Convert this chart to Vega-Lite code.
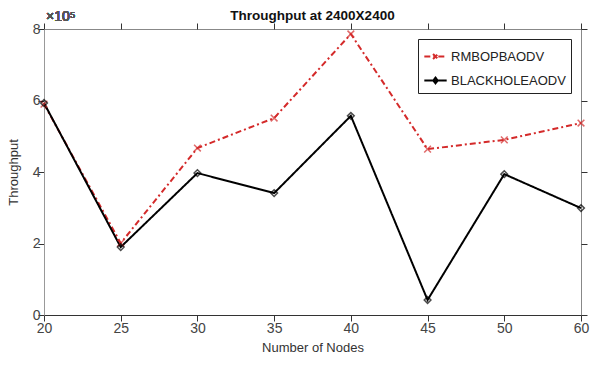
{
  "$schema": "https://vega.github.io/schema/vega-lite/v6.json",
  "width": 537,
  "height": 286,
  "autosize": {"type": "none"},
  "padding": {"left": 44, "top": 29, "right": 20, "bottom": 57},
  "background": "white",
  "title": {
    "text": "Throughput at 2400X2400",
    "font": "Liberation Sans",
    "fontSize": 13.5,
    "fontWeight": "bold",
    "color": "#111",
    "anchor": "middle",
    "offset": 0,
    "dy": 12
  },
  "config": {
    "view": {"stroke": "#888", "strokeWidth": 1},
    "axis": {
      "labelFont": "Liberation Sans",
      "titleFont": "Liberation Sans",
      "labelFontSize": 14,
      "titleFontSize": 13,
      "labelColor": "#444",
      "titleColor": "#333",
      "titleFontWeight": "normal",
      "grid": false,
      "tickColor": "#333",
      "tickWidth": 1,
      "tickSize": 6,
      "domainColor": "#666"
    }
  },
  "data": {
    "values": [
      {"nodes": 20, "series": "RMBOPBAODV", "throughput": 590000},
      {"nodes": 25, "series": "RMBOPBAODV", "throughput": 201000},
      {"nodes": 30, "series": "RMBOPBAODV", "throughput": 467000},
      {"nodes": 35, "series": "RMBOPBAODV", "throughput": 551000},
      {"nodes": 40, "series": "RMBOPBAODV", "throughput": 786000},
      {"nodes": 45, "series": "RMBOPBAODV", "throughput": 464000},
      {"nodes": 50, "series": "RMBOPBAODV", "throughput": 490000},
      {"nodes": 60, "series": "RMBOPBAODV", "throughput": 537000},
      {"nodes": 20, "series": "BLACKHOLEAODV", "throughput": 593000},
      {"nodes": 25, "series": "BLACKHOLEAODV", "throughput": 190000},
      {"nodes": 30, "series": "BLACKHOLEAODV", "throughput": 397000},
      {"nodes": 35, "series": "BLACKHOLEAODV", "throughput": 341000},
      {"nodes": 40, "series": "BLACKHOLEAODV", "throughput": 557000},
      {"nodes": 45, "series": "BLACKHOLEAODV", "throughput": 42000},
      {"nodes": 50, "series": "BLACKHOLEAODV", "throughput": 394000},
      {"nodes": 60, "series": "BLACKHOLEAODV", "throughput": 299000}
    ]
  },
  "resolve": {"axis": {"x": "independent", "y": "independent"}},
  "layer": [
    {
      "layer": [
        {
          "mark": {"type": "line", "strokeWidth": 2},
          "encoding": {
            "x": {
              "field": "nodes", "type": "ordinal",
              "scale": {"type": "point", "padding": 0},
              "axis": {"orient": "bottom", "title": "Number of Nodes", "labelAngle": 0, "labelPadding": 0, "titlePadding": 6, "domainColor": "#333",
                "encode": {"ticks": {"update": {"y2": {"value": -6}}}}}
            },
            "y": {
              "field": "throughput", "type": "quantitative",
              "scale": {"domain": [0, 800000], "nice": false},
              "axis": {"orient": "left", "title": "Throughput", "values": [0, 200000, 400000, 600000, 800000], "labelExpr": "datum.value / 100000", "labelPadding": -2, "titlePadding": 12, "domainColor": "#999",
                "encode": {"ticks": {"update": {"x2": {"value": 6}}}}}
            },
            "color": {
              "field": "series", "type": "nominal",
              "scale": {"domain": ["RMBOPBAODV", "BLACKHOLEAODV"], "range": ["#d42a2a", "#000000"]},
              "legend": {
                "title": null,
                "orient": "top-right",
                "offset": 10,
                "fillColor": "white",
                "strokeColor": "#222",
                "padding": 5,
                "labelFont": "Liberation Sans",
                "labelFontSize": 13,
                "labelColor": "#222",
                "symbolSize": 500,
                "symbolStrokeWidth": 2,
                "rowPadding": 4,
                "labelOffset": 3,
                "encode": {
                  "symbols": {
                    "update": {
                      "shape": {"signal": "datum.value === 'RMBOPBAODV' ? 'M-1,0L1,0M-0.22,-0.22L0.22,0.22M-0.22,0.22L0.22,-0.22' : 'M-1,0L1,0M0,-0.25L0.2,0L0,0.25L-0.2,0Z'"},
                      "fill": {"value": "transparent"},
                      "strokeWidth": {"value": 2}
                    }
                  }
                }
              }
            },
            "strokeDash": {
              "field": "series", "type": "nominal",
              "scale": {"domain": ["RMBOPBAODV", "BLACKHOLEAODV"], "range": [[6, 3, 2, 3], [1, 0]]}
            }
          }
        },
        {
          "mark": {"type": "point", "filled": false, "strokeWidth": 1.5, "size": 45},
          "encoding": {
            "x": {"field": "nodes", "type": "ordinal"},
            "y": {"field": "throughput", "type": "quantitative"},
            "stroke": {
              "condition": {"test": "datum.series === 'RMBOPBAODV'", "value": "#d42a2a"},
              "value": "#000000"
            },
            "shape": {
              "condition": {"test": "datum.series === 'RMBOPBAODV'", "value": "M-1,-1L1,1M-1,1L1,-1"},
              "value": "diamond"
            }
          }
        },
        {
          "mark": {"type": "text", "align": "left", "baseline": "bottom", "dx": 2, "dy": -5, "font": "Liberation Sans", "fontSize": 14, "color": "#555"},
          "encoding": {
            "x": {"datum": 20, "type": "ordinal"},
            "y": {"datum": 800000, "type": "quantitative"},
            "text": {"value": "×10⁵"}
          }
        }
      ]
    },
    {
      "mark": {"type": "point", "opacity": 0},
      "encoding": {
        "x": {"field": "nodes", "type": "ordinal", "axis": {"orient": "top", "labels": false, "title": null, "domain": false,
          "encode": {"ticks": {"update": {"y2": {"value": 6}}}}}},
        "y": {"field": "throughput", "type": "quantitative", "axis": {"orient": "right", "labels": false, "title": null, "domain": false, "values": [0, 200000, 400000, 600000, 800000],
          "encode": {"ticks": {"update": {"x2": {"value": -6}}}}}}
      }
    }
  ]
}
